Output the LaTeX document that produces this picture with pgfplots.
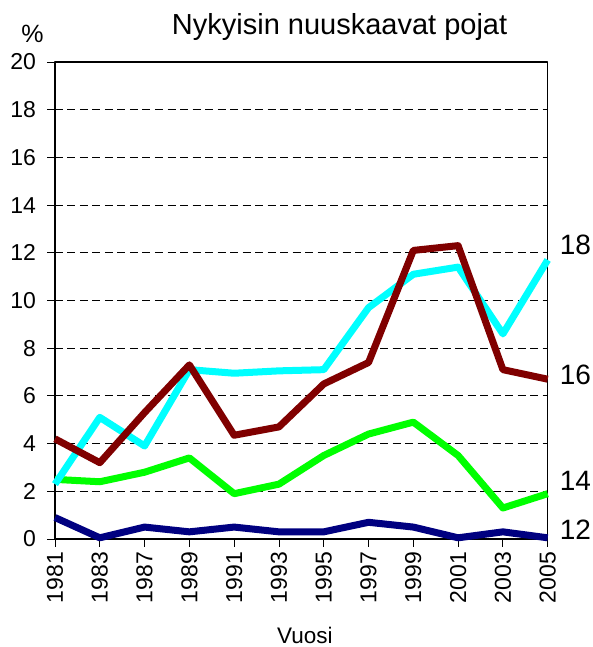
\documentclass[border=0pt]{standalone}
\usepackage{fontspec}
\setmainfont{Liberation Sans}
\usepackage{pgfplots}
\pgfplotsset{compat=1.18}
\definecolor{cDark}{HTML}{800000}
\definecolor{cCyan}{HTML}{00FFFF}
\definecolor{cGreen}{HTML}{00FF00}
\definecolor{cNavy}{HTML}{000080}
\begin{document}
\begin{tikzpicture}
\begin{axis}[
  scale only axis,
  width=492.7bp, height=477bp,
  xmin=0, xmax=11, ymin=0, ymax=20,
  xtick={0,...,11},
  xticklabels={1981,1983,1987,1989,1991,1993,1995,1997,1999,2001,2003,2005},
  ytick={0,2,...,20},
  tick align=outside,
  xtick pos=bottom, ytick pos=left,
  major tick length=7.5bp,
  tick style={black, line width=0.9bp},
  axis line style={line width=1.1bp},
  ymajorgrids,
  grid style={black, line width=0.8bp, dash pattern=on 8bp off 4.5bp},
  ticklabel style={font=\fontsize{23bp}{26bp}\selectfont},
  /pgf/number format/assume math mode=true,
  xticklabel style={rotate=90, anchor=east, xshift=-2bp},
  every y tick label/.append style={anchor=east, xshift=-8bp},
  clip=false,
  line join=round,
]
\addplot[cNavy, line width=7bp] coordinates {(0,0.9) (1,0.05) (2,0.5) (3,0.3) (4,0.5) (5,0.3) (6,0.3) (7,0.7) (8,0.5) (9,0.05) (10,0.3) (11,0.05)};
\addplot[cGreen, line width=7bp] coordinates {(0,2.5) (1,2.4) (2,2.8) (3,3.4) (4,1.9) (5,2.3) (6,3.5) (7,4.4) (8,4.9) (9,3.5) (10,1.3) (11,1.9)};
\addplot[cCyan, line width=7bp] coordinates {(0,2.3) (1,5.1) (2,3.9) (3,7.1) (4,6.95) (5,7.05) (6,7.1) (7,9.7) (8,11.1) (9,11.4) (10,8.6) (11,11.7)};
\addplot[cDark, line width=7bp] coordinates {(0,4.2) (1,3.2) (2,5.3) (3,7.3) (4,4.35) (5,4.7) (6,6.5) (7,7.4) (8,12.1) (9,12.3) (10,7.1) (11,6.7)};
\path (rel axis cs:0,0) ++(-55bp,-108bp) rectangle ++(593bp,647bp);
\node[anchor=base west, inner sep=0pt, font=\fontsize{28bp}{32bp}\selectfont] at (axis cs:11,11.91) [xshift=12bp] {18};
\node[anchor=base west, inner sep=0pt, font=\fontsize{28bp}{32bp}\selectfont] at (axis cs:11,6.46) [xshift=12bp] {16};
\node[anchor=base west, inner sep=0pt, font=\fontsize{28bp}{32bp}\selectfont] at (axis cs:11,2.05) [xshift=12bp] {14};
\node[anchor=base west, inner sep=0pt, font=\fontsize{28bp}{32bp}\selectfont] at (axis cs:11,-0.04) [xshift=12bp] {12};
\node[anchor=base, inner sep=0pt, font=\fontsize{29bp}{33bp}\selectfont] at (rel axis cs:0.5776,1) [yshift=27bp] {Nykyisin nuuskaavat pojat};
\node[anchor=base, inner sep=0pt, font=\fontsize{25bp}{28bp}\selectfont] at (rel axis cs:0,1) [xshift=-22.5bp, yshift=19bp] {\%};
\node[anchor=base, inner sep=0pt, font=\fontsize{22.5bp}{26bp}\selectfont] at (rel axis cs:0.507,0) [yshift=-104bp] {Vuosi};
\end{axis}
\end{tikzpicture}
\end{document}
